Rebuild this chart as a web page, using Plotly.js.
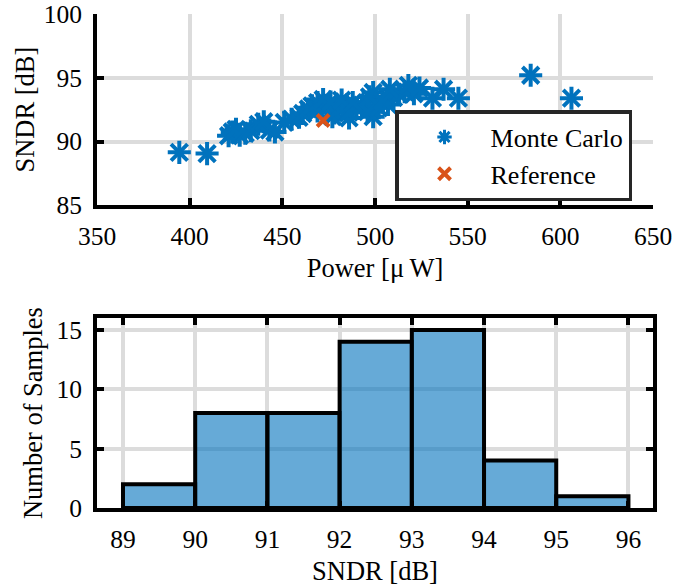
<!DOCTYPE html>
<html>
<head>
<meta charset="utf-8">
<script src="https://cdn.plot.ly/plotly-3.0.1.min.js"></script>
<style>html,body{margin:0;padding:0;background:#fff;}#chart{width:689px;height:588px;}</style>
</head>
<body>
<div id="chart"></div>
<script>
// Monte Carlo samples: Power [uW] and SNDR [dB]
const mcPower = [394.4, 409.4,
  421, 423, 425, 427, 430, 433, 443, 446,
  437, 440, 451, 455, 459, 477, 486, 499,
  461, 464, 466, 469, 474, 478, 480, 483, 486, 490, 493, 496, 502, 507,
  469, 472, 476, 482, 488, 497, 499, 504, 510, 513, 516, 521, 531, 545, 606,
  508, 518, 524, 537,
  584];
const mcSndr = [89.15, 89.05,
  90.45, 90.75, 90.95, 90.5, 90.65, 90.85, 90.9, 90.75,
  91.35, 91.55, 91.5, 91.75, 91.9, 91.95, 91.85, 91.95,
  92.2, 92.55, 92.8, 92.4, 92.7, 92.25, 92.5, 92.75, 92.3, 92.6, 92.85, 92.35, 92.65, 92.9,
  93.05, 93.3, 93.1, 93.25, 93.05, 93.5, 93.85, 93.2, 93.45, 93.7, 93.9, 93.75, 93.4, 93.4, 93.4,
  94.1, 94.4, 94.2, 94.1,
  95.2];
const refPower = [472];
const refSndr = [91.65];

// Histogram of SNDR
const binCenters = [89.5, 90.5, 91.5, 92.5, 93.5, 94.5, 95.5];
const binCounts = [2, 8, 8, 14, 15, 4, 1];

const xTicksTop = [350, 400, 450, 500, 550, 600, 650];
const yTicksTop = [85, 90, 95, 100];
const xTicksBot = [89, 90, 91, 92, 93, 94, 95, 96];
const yTicksBot = [0, 5, 10, 15];

const blue = '#0072BD';
const orange = '#D95319';
const FONT = 'Liberation Serif, Times New Roman, serif';

const traces = [
  // star drawn as cross + x (equal arm length)
  {x: mcPower, y: mcSndr, type: 'scatter', mode: 'markers', xaxis: 'x', yaxis: 'y', showlegend: false,
   marker: {symbol: 'cross-thin-open', size: 16.5, color: blue, line: {color: blue, width: 4}}, hoverinfo: 'skip'},
  {x: mcPower, y: mcSndr, type: 'scatter', mode: 'markers', xaxis: 'x', yaxis: 'y', showlegend: false,
   marker: {symbol: 'x-thin-open', size: 16.5, color: blue, line: {color: blue, width: 4}}, hoverinfo: 'skip'},
  // legend entry
  {x: [null], y: [null], type: 'scatter', mode: 'markers', xaxis: 'x', yaxis: 'y', name: 'Monte Carlo',
   marker: {symbol: 'asterisk-open', size: 12, color: blue, line: {color: blue, width: 3}}},
  {x: refPower, y: refSndr, type: 'scatter', mode: 'markers', xaxis: 'x', yaxis: 'y', name: 'Reference',
   marker: {symbol: 'x-thin-open', size: 12, color: orange, line: {color: orange, width: 4}}},
  {x: binCenters, y: binCounts, type: 'bar', width: 1, xaxis: 'x2', yaxis: 'y2', showlegend: false,
   marker: {color: 'rgba(0,114,189,0.6)', line: {color: 'black', width: 4}}}
];

const gridC = '#dcdcdc';
const axBase = {
  showgrid: true, gridcolor: gridC, gridwidth: 4,
  showline: true, linecolor: 'black', linewidth: 4,
  ticks: 'inside', ticklen: 7, tickwidth: 4, tickcolor: 'black',
  zeroline: false, tickfont: {family: FONT, size: 25.5, color: 'black'},
  fixedrange: true
};

const layout = {
  width: 689, height: 588,
  margin: {l: 97, r: 36, t: 0, b: 0},
  paper_bgcolor: 'white', plot_bgcolor: 'white',
  font: {family: FONT, size: 26, color: 'black'},
  bargap: 0,
  showlegend: true,
  legend: {x: 0.536, y: 0.7355, xanchor: 'left', yanchor: 'middle', bgcolor: 'white',
           bordercolor: '#262626', borderwidth: 3.5, font: {family: FONT, size: 26, color: 'black'},
           itemwidth: 82, tracegroupgap: 0},
  xaxis: Object.assign({}, axBase, {anchor: 'y', domain: [0, 1], range: [350, 650], tickvals: xTicksTop,
           mirror: false, ticklabelstandoff: 5,
           title: {text: 'Power [μ\u2009W]', font: {family: FONT, size: 26.5}, standoff: 10}}),
  yaxis: Object.assign({}, axBase, {anchor: 'x', domain: [0.651, 0.976], range: [85, 100], tickvals: yTicksTop,
           mirror: false, ticklabelstandoff: 6,
           title: {text: 'SNDR [dB]', font: {family: FONT, size: 26.5}, standoff: 2}}),
  xaxis2: Object.assign({}, axBase, {anchor: 'y2', domain: [0, 1], range: [88.64, 96.34], tickvals: xTicksBot,
           mirror: 'ticks', ticklabelstandoff: 5,
           title: {text: 'SNDR [dB]', font: {family: FONT, size: 26.5}, standoff: 10}}),
  yaxis2: Object.assign({}, axBase, {anchor: 'x2', domain: [0.136, 0.459], range: [0, 16], tickvals: yTicksBot,
           mirror: 'ticks', ticklabelstandoff: 6,
           title: {text: 'Number of Samples', font: {family: FONT, size: 26.5}, standoff: 7}})
};

Plotly.newPlot('chart', traces, layout, {displayModeBar: false, staticPlot: true});
</script>
</body>
</html>
